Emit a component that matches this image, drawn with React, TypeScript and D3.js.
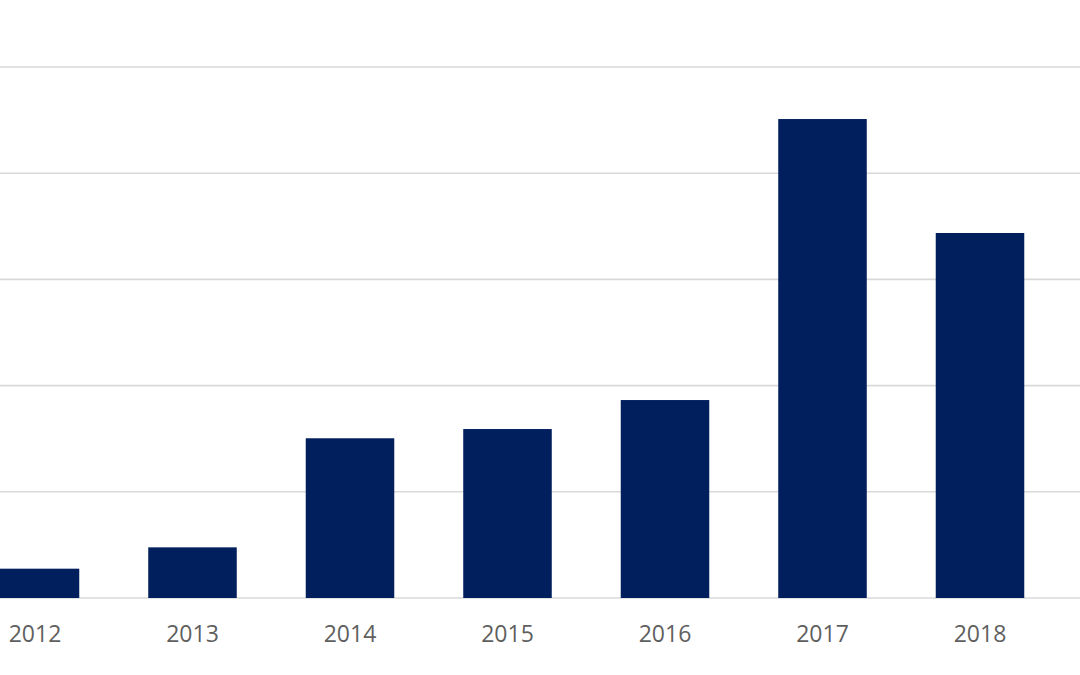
import React from "react";
import * as d3 from "d3";

const years = ["2012", "2013", "2014", "2015", "2016", "2017", "2018"];
const values = [27.6, 47.7, 150.4, 159.1, 186.4, 451, 343.7];
const yTicks = [0, 100, 200, 300, 400, 500];

const W = 1080;
const H = 675;

export default function App() {
  const x = d3
    .scaleBand<string>()
    .domain(years)
    .range([-43.75, 1058.75])
    .paddingInner(0.438)
    .paddingOuter(0.219);
  const y = d3.scaleLinear().domain([0, 500]).range([598, 67]);

  return (
    <svg
      width={W}
      height={H}
      style={{ position: "fixed", left: 0, top: 0, background: "#fff" }}
    >
      <rect x={0} y={0} width={W} height={H} fill="#ffffff" />
      {yTicks.map((t) => (
        <line
          key={t}
          x1={0}
          x2={W}
          y1={y(t)}
          y2={y(t)}
          stroke="#d9d9d9"
          strokeWidth={1.6}
        />
      ))}
      {years.map((yr, i) => (
        <rect
          key={yr}
          x={x(yr)}
          y={y(values[i])}
          width={x.bandwidth()}
          height={y(0) - y(values[i])}
          fill="#001f5c"
        />
      ))}
      {years.map((yr) => (
        <text
          key={"l" + yr}
          x={(x(yr) as number) + x.bandwidth() / 2}
          y={641.5}
          textAnchor="middle"
          fontFamily="'Open Sans', sans-serif"
          fontSize={23}
          fill="#5f5f5f"
        >
          {yr}
        </text>
      ))}
    </svg>
  );
}
